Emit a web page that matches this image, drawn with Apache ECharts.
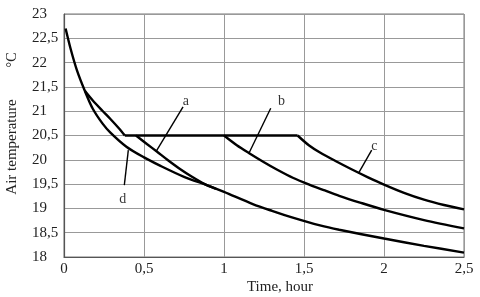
<!DOCTYPE html>
<html><head><meta charset="utf-8">
<script src="https://cdn.jsdelivr.net/npm/echarts@6/dist/echarts.min.js"></script>
<style>html,body{margin:0;padding:0;background:#fff}#c{width:480px;height:297px}</style>
</head><body><div id="c"></div>
<script>
// Data (time in hours, air temperature in °C)
const xTicks = [0, 0.5, 1, 1.5, 2, 2.5];
const yTicks = [18, 18.5, 19, 19.5, 20, 20.5, 21, 21.5, 22, 22.5, 23];

const curveD = [[0.01,22.7],[0.04,22.3],[0.08,21.85],[0.13,21.42],[0.18,21.05],[0.24,20.75],[0.29,20.56],[0.39,20.27],[0.5,20.05],[0.6,19.88],[0.75,19.65],[0.9,19.47],[1.0,19.34],[1.18,19.09],[1.3,18.95],[1.43,18.81],[1.6,18.65],[1.72,18.56],[2.0,18.38],[2.25,18.23],[2.5,18.09]];
const curveRise = [[0.13,21.42],[0.18,21.22],[0.24,21.01],[0.29,20.84],[0.34,20.66],[0.38,20.5]];
const plateau = [[0.38,20.5],[1.46,20.5]];
const curveA = [[0.45,20.5],[0.52,20.32],[0.58,20.17],[0.65,19.99],[0.725,19.81],[0.8,19.65],[0.88,19.5],[0.95,19.4]];
const curveB = [[1.0,20.5],[1.08,20.3],[1.16,20.13],[1.25,19.95],[1.33,19.8],[1.43,19.63],[1.54,19.48],[1.63,19.37],[1.72,19.26],[1.85,19.12],[2.0,18.97],[2.25,18.76],[2.5,18.59]];
const curveC = [[1.46,20.5],[1.53,20.3],[1.6,20.15],[1.7,19.97],[1.8,19.8],[1.9,19.64],[2.0,19.49],[2.125,19.32],[2.25,19.18],[2.375,19.07],[2.5,18.98]];

const leaderA = [[0.575,20.17],[0.744,21.09]];
const leaderB = [[1.158,20.15],[1.292,21.06]];
const leaderC = [[1.84,19.72],[1.923,20.2]];
const leaderD = [[0.402,20.2],[0.377,19.48]];
const labelNames = ['a','b','c','d'];
const labelPos = [[0.762,21.2],[1.36,21.2],[1.94,20.27],[0.367,19.19]];

const serif = "'Liberation Serif','Times New Roman',serif";
const fmt = v => String(v).replace('.', ',');

function curve(data){
  return {type:'line', data, smooth:0.3, symbol:'none',
    lineStyle:{color:'#000', width:2.4}, z:3, silent:true};
}
function leader(data){
  return {type:'line', data, symbol:'none', lineStyle:{color:'#000', width:1.4}, z:4, silent:true};
}

const chart = echarts.init(document.getElementById('c'), null, {renderer:'canvas'});
chart.setOption({
  animation:false,
  backgroundColor:'#fff',
  grid:{left:64, right:16, top:14, bottom:40},
  xAxis:{type:'value', min:xTicks[0], max:xTicks[xTicks.length-1], interval:0.5,
    axisLine:{show:true, lineStyle:{color:'#555', width:1.2}},
    axisTick:{show:false},
    splitLine:{show:true, lineStyle:{color:'#999', width:1}},
    axisLabel:{formatter:fmt, color:'#222', fontFamily:serif, fontSize:15, margin:5}
  },
  yAxis:{type:'value', min:yTicks[0], max:yTicks[yTicks.length-1], interval:0.5,
    axisLine:{show:true, lineStyle:{color:'#555', width:1.2}},
    axisTick:{show:false},
    splitLine:{show:true, lineStyle:{color:'#999', width:1}},
    axisLabel:{formatter:fmt, color:'#222', fontFamily:serif, fontSize:15, margin:32, align:'left'}
  },
  graphic:[
    {type:'text', x:12, y:147, rotation:Math.PI/2, style:{text:'Air temperature', fill:'#222', font:"15px 'Liberation Serif'", textAlign:'center', textVerticalAlign:'middle'}},
    {type:'text', x:12, y:60, rotation:Math.PI/2, style:{text:'°C', fill:'#222', font:"14px 'Liberation Serif'", textAlign:'center', textVerticalAlign:'middle'}},
    {type:'text', x:280, y:287, style:{text:'Time, hour', fill:'#222', font:"15px 'Liberation Serif'", textAlign:'center', textVerticalAlign:'middle'}},
    {type:'rect', shape:{x:64, y:14, width:400, height:243}, style:{fill:'none', stroke:'#777', lineWidth:1}, silent:true}
  ],
  series:[
    curve(curveD), curve(curveRise),
    {type:'line', data:plateau, symbol:'none', lineStyle:{color:'#000', width:2.4}, z:3, silent:true},
    curve(curveA), curve(curveB), curve(curveC),
    leader(leaderA), leader(leaderB), leader(leaderC), leader(leaderD),
    {type:'scatter', symbolSize:0, z:5, silent:true,
      data: labelPos.map((p,i)=>({value:p, name:labelNames[i]})),
      label:{show:true, position:'inside', formatter:'{b}', color:'#000', fontFamily:serif, fontSize:14}}
  ]
});
</script></body></html>
